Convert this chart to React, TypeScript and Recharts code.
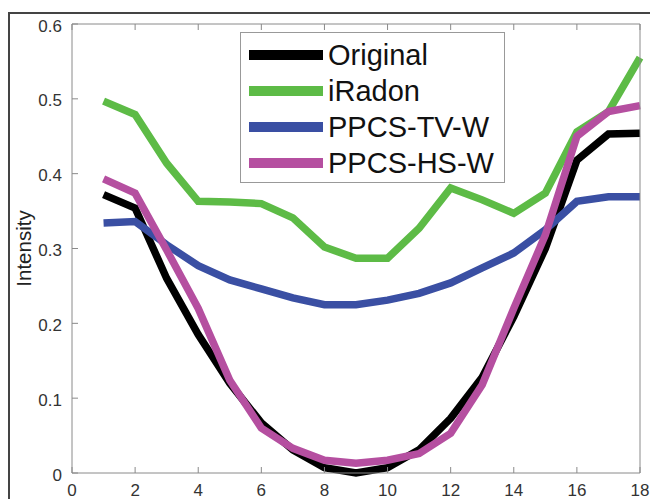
import React from 'react';
import { LineChart, Line, XAxis, YAxis } from 'recharts';

const positions = [1, 2, 3, 4, 5, 6, 7, 8, 9, 10, 11, 12, 13, 14, 15, 16, 17, 18];
const original = [0.372, 0.354, 0.26, 0.185, 0.12, 0.067, 0.031, 0.007, 0.0, 0.007, 0.031, 0.073, 0.128, 0.209, 0.3, 0.418, 0.453, 0.454];
const iradon = [0.497, 0.479, 0.414, 0.363, 0.362, 0.36, 0.341, 0.302, 0.287, 0.287, 0.327, 0.381, 0.365, 0.347, 0.374, 0.456, 0.483, 0.555];
const ppcsTv = [0.334, 0.336, 0.305, 0.277, 0.258, 0.246, 0.234, 0.225, 0.225, 0.231, 0.24, 0.254, 0.274, 0.294, 0.325, 0.363, 0.369, 0.369];
const ppcsHs = [0.393, 0.374, 0.298, 0.22, 0.124, 0.06, 0.033, 0.017, 0.013, 0.017, 0.026, 0.053, 0.118, 0.22, 0.318, 0.45, 0.483, 0.491];

const xTicks = [0, 2, 4, 6, 8, 10, 12, 14, 16, 18];
const yTicks = [0, 0.1, 0.2, 0.3, 0.4, 0.5, 0.6];

const series = [
  { key: 'original', name: 'Original', color: '#000000' },
  { key: 'iradon', name: 'iRadon', color: '#5dbb46' },
  { key: 'tv', name: 'PPCS-TV-W', color: '#3a4fa3' },
  { key: 'hs', name: 'PPCS-HS-W', color: '#b54fa0' },
];

const data = positions.map((x, i) => ({
  x,
  original: original[i],
  iradon: iradon[i],
  tv: ppcsTv[i],
  hs: ppcsHs[i],
}));

const FONT = 'Liberation Sans, Arial, Helvetica, sans-serif';
const AXIS = '#8a8a8a';
const TICK_LEN = 6;

// ticks point inward like matlab's boxed axes
const BottomTick = (props: any) => {
  const { x, y, payload } = props;
  return (
    <g>
      <line x1={x} y1={y} x2={x} y2={y - TICK_LEN} stroke={AXIS} strokeWidth={1} />
      <text x={x} y={y + 23} textAnchor="middle" fontSize={17} fill="#333" fontFamily={FONT}>
        {payload.value}
      </text>
    </g>
  );
};

const TopTick = (props: any) => {
  const { x, y } = props;
  return <line x1={x} y1={y} x2={x} y2={y + TICK_LEN} stroke={AXIS} strokeWidth={1} />;
};

const LeftTick = (props: any) => {
  const { x, y, payload } = props;
  return (
    <g>
      <line x1={x} y1={y} x2={x + TICK_LEN} y2={y} stroke={AXIS} strokeWidth={1} />
      <text x={x - 10} y={y + 2} textAnchor="end" dominantBaseline="central" fontSize={17} fill="#333" fontFamily={FONT}>
        {payload.value}
      </text>
    </g>
  );
};

const RightTick = (props: any) => {
  const { x, y } = props;
  return <line x1={x} y1={y} x2={x - TICK_LEN} y2={y} stroke={AXIS} strokeWidth={1} />;
};

const YLabel = (props: any) => {
  const { viewBox } = props;
  const cy = viewBox.y + viewBox.height / 2;
  return (
    <text
      x={23}
      y={cy}
      transform={`rotate(-90, 23, ${cy})`}
      textAnchor="middle"
      dominantBaseline="central"
      fontSize={20.5}
      fill="#222"
      fontFamily={FONT}
    >
      Intensity
    </text>
  );
};

const LegendBox = () => (
  <div
    style={{
      position: 'absolute',
      left: 240,
      top: 32,
      width: 265,
      height: 151,
      boxSizing: 'border-box',
      border: '1px solid #999',
      background: '#fff',
      paddingTop: 4,
      fontFamily: FONT,
    }}
  >
    {series.map((s) => (
      <div key={s.key} style={{ display: 'flex', alignItems: 'center', height: 36 }}>
        <div style={{ width: 74, height: 10, background: s.color, marginLeft: 8 }} />
        <span style={{ fontSize: 29, color: '#111', marginLeft: 5, lineHeight: '36px' }}>{s.name}</span>
      </div>
    ))}
  </div>
);

export default function App() {
  return (
    <div style={{ position: 'absolute', left: 0, top: 0, width: 650, height: 499, background: '#fff', overflow: 'hidden' }}>
      <div
        style={{
          position: 'absolute',
          left: 8,
          top: 12,
          width: 700,
          height: 600,
          borderTop: '2px solid #444',
          borderLeft: '2px solid #444',
        }}
      />
      <div style={{ position: 'absolute', left: 0, top: 0 }}>
        <LineChart width={650} height={499} data={data} margin={{ top: 0, right: 0, bottom: 0, left: 0 }}>
          <XAxis
            xAxisId="bottom"
            dataKey="x"
            type="number"
            domain={[0, 18]}
            ticks={xTicks}
            height={26}
            tickSize={0}
            tickMargin={0}
            tickLine={false}
            stroke={AXIS}
            tick={<BottomTick />}
            interval={0}
          />
          <XAxis
            xAxisId="top"
            orientation="top"
            dataKey="x"
            type="number"
            domain={[0, 18]}
            ticks={xTicks}
            height={24}
            tickSize={0}
            tickMargin={0}
            tickLine={false}
            stroke={AXIS}
            tick={<TopTick />}
            interval={0}
          />
          <YAxis
            yAxisId="left"
            type="number"
            domain={[0, 0.6]}
            ticks={yTicks}
            width={72}
            tickSize={0}
            tickMargin={0}
            tickLine={false}
            stroke={AXIS}
            tick={<LeftTick />}
            interval={0}
            label={<YLabel />}
          />
          <YAxis
            yAxisId="right"
            orientation="right"
            type="number"
            domain={[0, 0.6]}
            ticks={yTicks}
            width={10}
            tickSize={0}
            tickMargin={0}
            tickLine={false}
            stroke={AXIS}
            tick={<RightTick />}
            interval={0}
          />
          {series.map((s) => (
            <Line
              key={s.key}
              xAxisId="bottom"
              yAxisId="left"
              type="linear"
              dataKey={s.key}
              name={s.name}
              stroke={s.color}
              strokeWidth={7.5}
              dot={false}
              isAnimationActive={false}
            />
          ))}
        </LineChart>
      </div>
      <LegendBox />
    </div>
  );
}
